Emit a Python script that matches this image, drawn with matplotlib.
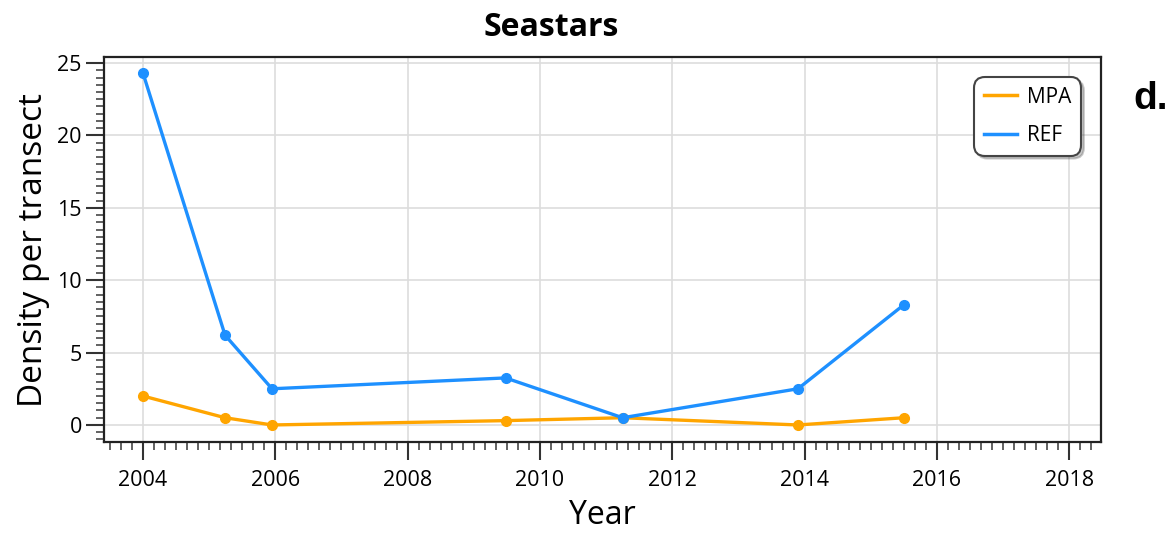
import numpy as np
import matplotlib
matplotlib.use("Agg")
import matplotlib.pyplot as plt
from matplotlib.ticker import MultipleLocator
from matplotlib.lines import Line2D

# --- данные ---
years = [2004.0, 2005.24, 2005.95, 2009.48, 2011.25, 2013.9, 2015.5]
mpa = [2.0, 0.5, 0.0, 0.3, 0.5, 0.0, 0.5]
ref = [24.3, 6.2, 2.5, 3.25, 0.5, 2.5, 8.3]
xticks = [2004, 2006, 2008, 2010, 2012, 2014, 2016, 2018]
yticks = [0, 5, 10, 15, 20, 25]
c_mpa = '#FFA500'
c_ref = '#1E90FF'

plt.rcParams['font.family'] = ['Open Sans', 'DejaVu Sans']

fig = plt.figure(figsize=(11.75, 5.35), dpi=100)
ax = fig.add_axes([0.0885, 0.174, 0.8485, 0.719])

ax.plot(years, mpa, color=c_mpa, lw=2.4, marker='o', ms=7)
ax.plot(years, ref, color=c_ref, lw=2.4, marker='o', ms=7)

ax.set_xlim(2003.41, 2018.48)
ax.set_ylim(-1.17, 25.4)
ax.set_xticks(xticks)
ax.set_yticks(yticks)
ax.xaxis.set_minor_locator(MultipleLocator(1 / 6))
ax.yaxis.set_minor_locator(MultipleLocator(0.5))
ax.tick_params(which='major', length=13, width=1.5, color='#333333', labelsize=15.5, pad=3)
ax.tick_params(axis='x', which='major', pad=7)
ax.tick_params(which='minor', length=6, width=1.3, color='#555555')
ax.grid(True, which='major', color='#dddddd', lw=1.2)
ax.set_axisbelow(True)
for s in ax.spines.values():
    s.set_linewidth(1.6)
    s.set_color('#222222')

ax.set_xlabel('Year', fontsize=23, labelpad=6)
ax.set_ylabel('Density per transect', fontsize=24, labelpad=5)

fig.text(0.469, 0.948, 'Seastars', fontsize=23, fontweight='bold', ha='center', va='center')
fig.text(0.979, 0.815, 'd.', fontsize=28, fontweight='bold', ha='center', va='center',
         family=['Liberation Sans', 'DejaVu Sans'])

handles = [Line2D([], [], color=c_mpa, lw=2.5), Line2D([], [], color=c_ref, lw=2.5)]
leg = ax.legend(handles, ['MPA', 'REF'], loc='upper right', bbox_to_anchor=(0.98, 0.948),
                fontsize=15, fancybox=True, shadow={'alpha': 0.3}, framealpha=1,
                edgecolor='#444444', handlelength=1.6, borderpad=0.45,
                handletextpad=0.5, labelspacing=0.85, borderaxespad=0)
leg.get_frame().set_linewidth(1.5)
leg.get_frame().set_boxstyle('round,pad=0,rounding_size=0.5')

fig.savefig('out.png', dpi=100)
